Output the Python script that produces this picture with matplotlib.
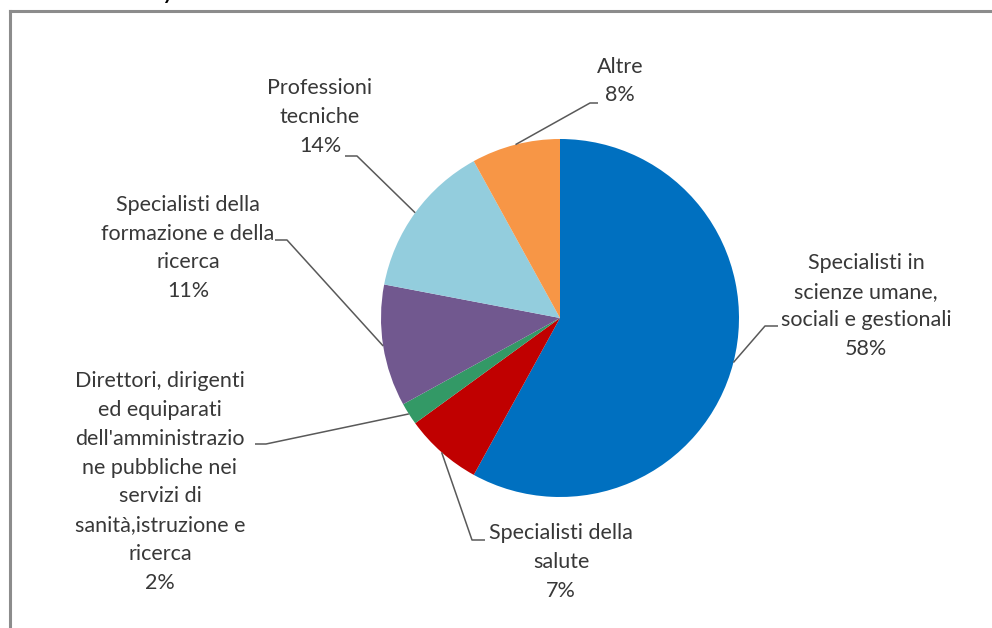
import numpy as np
import matplotlib
matplotlib.use("Agg")
import matplotlib.pyplot as plt
from matplotlib.lines import Line2D

# dati
categorie = [
    "Specialisti in\nscienze umane,\nsociali e gestionali",
    "Specialisti della\nsalute",
    "Direttori, dirigenti\ned equiparati\ndell'amministrazio\nne pubbliche nei\nservizi di\nsanità,istruzione e\nricerca",
    "Specialisti della\nformazione e della\nricerca",
    "Professioni\ntecniche",
    "Altre",
]
percentuali = [58, 7, 2, 11, 14, 8]
colori = ["#0070C0", "#C00000", "#339966", "#71588F", "#93CDDD", "#F79646"]

# posizioni delle etichette (pixel, origine in alto a sinistra)
pos_etichette = [(866, 306), (561, 562), (160, 482), (188, 248), (320, 117), (620, 81)]
# gomito e punto finale dei connettori
gomiti = [((765, 326), (778, 326)),
          ((472, 540), (485, 540)),
          ((266, 444), (255, 444)),
          ((287, 240), (275, 240)),
          ((357, 156), (345, 156)),
          ((590, 103), (598, 103))]

W, H = 992, 628
fig = plt.figure(figsize=(W / 100, H / 100), dpi=100)
ax = fig.add_axes([0, 0, 1, 1])

def py(y):
    return H - y

cx, cy, r = 560, 318, 179
wedges, _ = ax.pie(percentuali, colors=colori, startangle=90, counterclock=False,
                   center=(cx, py(cy)), radius=r, frame=True,
                   wedgeprops=dict(linewidth=0))
ax.set_xlim(0, W)
ax.set_ylim(0, H)
ax.set_aspect("auto")
ax.set_axis_off()

col_testo = "#383838"
for w, cat, p, (lx, ly), (g, e) in zip(wedges, categorie, percentuali, pos_etichette, gomiti):
    ang = np.deg2rad((w.theta1 + w.theta2) / 2)
    x0 = cx + r * np.cos(ang)
    y0 = py(cy) + r * np.sin(ang)
    ax.plot([x0, g[0], e[0]], [y0, py(g[1]), py(e[1])], color="#595959", lw=1.1,
            solid_capstyle="butt")
    ax.text(lx, py(ly), cat + "\n" + str(p) + "%", ha="center", va="center",
            multialignment="center", fontsize=15.5, family="Lato",
            color=col_testo, linespacing=1.55)

# cornice
fig.add_artist(Line2D([9.5 / W, 9.5 / W], [0, 1 - 11 / H], color="#8c8c8c", lw=2.2,
                      transform=fig.transFigure))
fig.add_artist(Line2D([9.5 / W, 1], [1 - 11 / H, 1 - 11 / H], color="#8c8c8c", lw=2.2,
                      transform=fig.transFigure))

# resto del titolo tagliato in alto
fig.text(163 / W, 1 + 1 / H, "y", fontsize=15, style="italic", weight="bold",
         ha="left", va="baseline", family="Lato")

fig.savefig("out.png", dpi=100)
